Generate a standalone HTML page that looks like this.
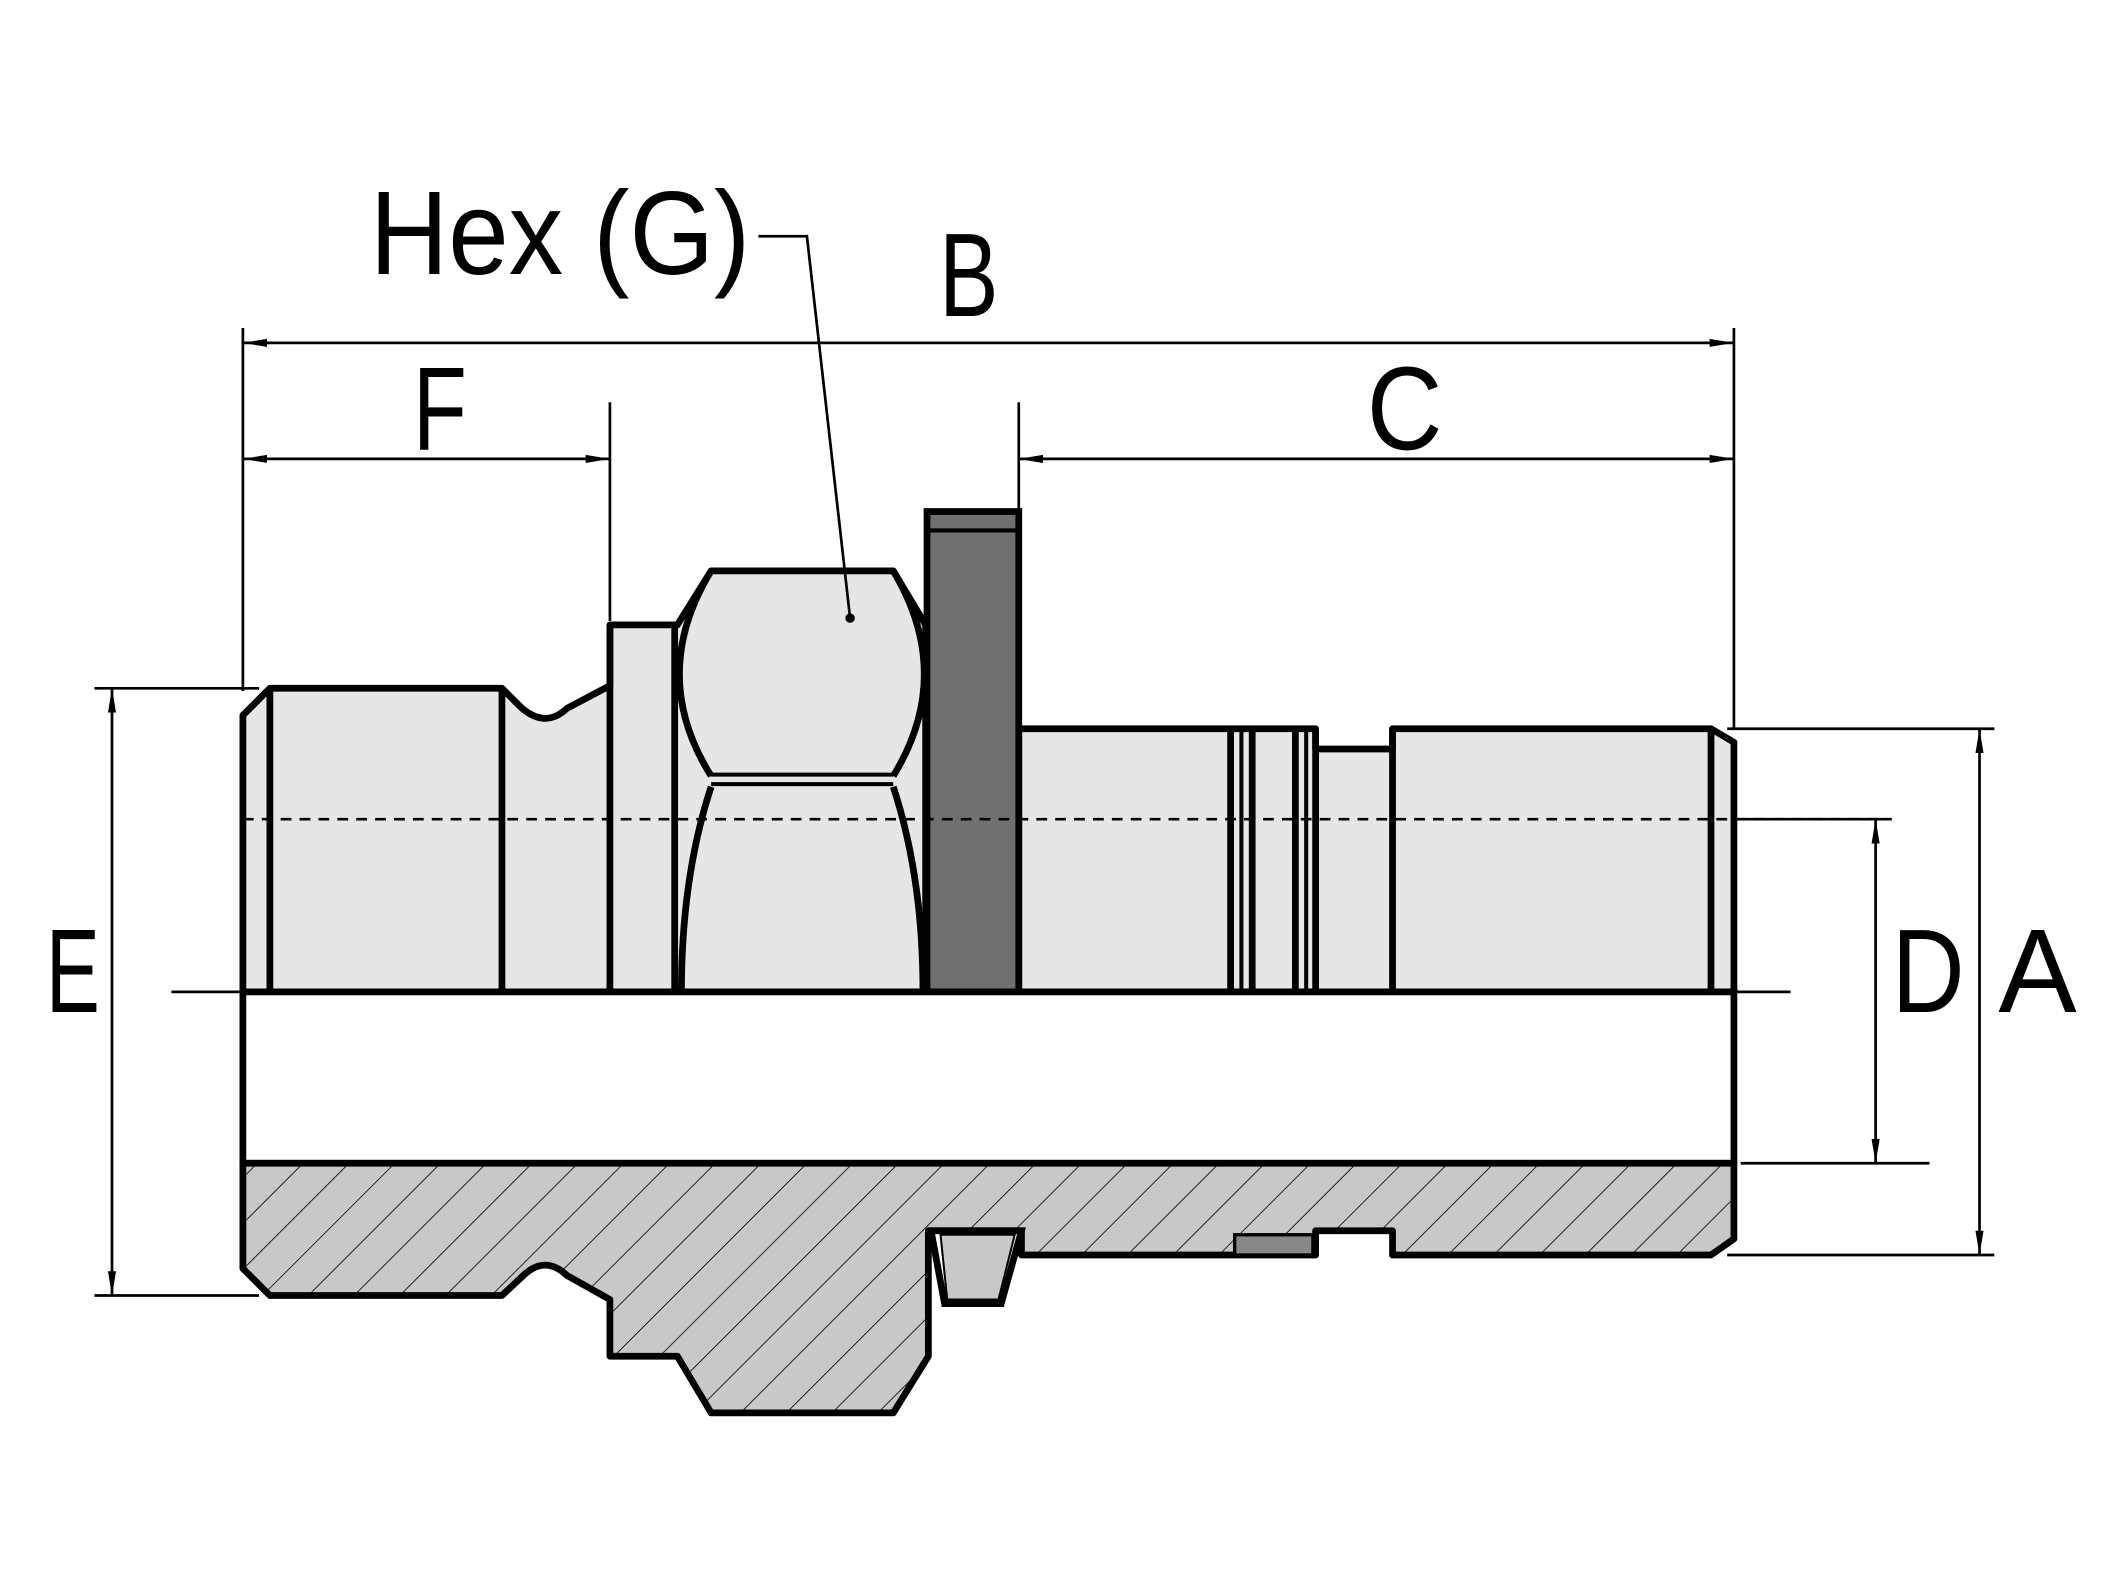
<!DOCTYPE html>
<html><head><meta charset="utf-8"><style>html,body{margin:0;padding:0;background:#fff}svg{display:block}</style></head>
<body>
<svg width="2105" height="1579" viewBox="0 0 1560 1170" xmlns="http://www.w3.org/2000/svg" font-family="'Liberation Sans','DejaVu Sans',sans-serif">
<defs>
<pattern id="h" patternUnits="userSpaceOnUse" width="24" height="24" patternTransform="rotate(45)">
<rect width="24" height="24" fill="#c8c8c8"/><line x1="0" y1="0" x2="0" y2="24" stroke="#222" stroke-width="1.5"/>
</pattern>
<marker id="a" markerWidth="18" markerHeight="8" refX="18" refY="4" orient="auto-start-reverse" markerUnits="userSpaceOnUse">
<path d="M0,1 L18,4 L0,7 Z" fill="#000"/></marker>
</defs>
<g fill="none" stroke="#000" stroke-width="2">
<line x1="180" y1="243" x2="180" y2="512"/>
<line x1="1285" y1="243" x2="1285" y2="540"/>
<line x1="452" y1="298" x2="452" y2="460"/>
<line x1="755" y1="298" x2="755" y2="378"/>
<line x1="70" y1="510" x2="192" y2="510"/>
<line x1="70" y1="960" x2="192" y2="960"/>
<line x1="1280" y1="540" x2="1478" y2="540"/>
<line x1="1280" y1="930" x2="1478" y2="930"/>
<line x1="1290" y1="862" x2="1430" y2="862"/>
<line x1="1290" y1="607" x2="1402" y2="607"/>
<line x1="180" y1="254" x2="1285" y2="254" marker-start="url(#a)" marker-end="url(#a)"/>
<line x1="180" y1="340" x2="452" y2="340" marker-start="url(#a)" marker-end="url(#a)"/>
<line x1="755" y1="340" x2="1285" y2="340" marker-start="url(#a)" marker-end="url(#a)"/>
<line x1="83" y1="510" x2="83" y2="960" marker-start="url(#a)" marker-end="url(#a)"/>
<line x1="1390" y1="607" x2="1390" y2="862" marker-start="url(#a)" marker-end="url(#a)"/>
<line x1="1467" y1="540" x2="1467" y2="930" marker-start="url(#a)" marker-end="url(#a)"/>
</g>
<g stroke="#000" stroke-width="5" stroke-linejoin="round" fill="#e6e6e6">
<path d="M180,735 L180,530 L200,510 L372,510 L386,524 Q404,540 420,525 L452,508 L452,463 L502,463 L527,423 L662,423 L686,463 L686,735 Z"/>
<path d="M755,735 L755,540 L975,540 L975,555 L1032,555 L1032,540 L1268,540 L1285,550 L1285,735 Z"/>
</g>
<g stroke="#000" stroke-width="5" fill="none">
<line x1="200" y1="510" x2="200" y2="735"/>
<line x1="372" y1="510" x2="372" y2="735"/>
<line x1="452" y1="463" x2="452" y2="735"/>
<line x1="500" y1="463" x2="500" y2="735"/>
<line x1="912" y1="540" x2="912" y2="735"/>
<line x1="928" y1="540" x2="928" y2="735"/>
<line x1="960" y1="540" x2="960" y2="735"/>
<line x1="975" y1="540" x2="975" y2="735"/>
<line x1="1032" y1="540" x2="1032" y2="735"/>
<line x1="1268" y1="540" x2="1268" y2="735"/>
<path d="M527,423 Q480,500 527,575"/>
<path d="M662,423 Q708,500 662,575"/>
<path d="M527,583 Q505,650 505,735"/>
<path d="M662,583 Q684,650 684,735"/>
</g>
<g stroke="#000" stroke-width="3">
<line x1="527" y1="574" x2="662" y2="574"/>
<line x1="527" y1="581" x2="662" y2="581"/>
<line x1="920" y1="540" x2="920" y2="735"/>
<line x1="968" y1="540" x2="968" y2="735"/>
</g>
<rect x="687" y="379" width="68" height="356" fill="#707070" stroke="#000" stroke-width="5"/>
<line x1="687" y1="393" x2="755" y2="393" stroke="#000" stroke-width="3"/>
<rect x="180" y="735" width="1105" height="127" fill="#fff" stroke="#000" stroke-width="5"/>
<path d="M180,862 L1285,862 L1285,918 L1268,930 L1032,930 L1032,912 L975,912 L975,930 L757,930 L757,912 L688,912 L688,1005 L662,1047 L527,1047 L502,1005 L452,1005 L452,963 L420,945 Q404,930 388,945 L372,960 L200,960 L180,940 Z" fill="url(#h)" stroke="#000" stroke-width="5" stroke-linejoin="round"/>
<path d="M690,912 L757,912 L742,966 L700,966 Z" fill="#fff" stroke="#000" stroke-width="5"/>
<path d="M697,915 L752,915 L740,963 L702,963 Z" fill="#c8c8c8" stroke="#000" stroke-width="1.5"/>
<rect x="915" y="915" width="58" height="15" fill="#888" stroke="#000" stroke-width="2.5"/>
<line x1="127" y1="735" x2="1327" y2="735" stroke="#000" stroke-width="2"/>
<line x1="180" y1="607" x2="1400" y2="607" stroke="#000" stroke-width="2" stroke-dasharray="8,6"/>
<polyline points="562,175 598,175 630,458" fill="none" stroke="#000" stroke-width="2"/>
<circle cx="630" cy="458" r="3.5" fill="#000"/>
<g font-size="88" fill="#000">
<text x="274" y="203" textLength="282" lengthAdjust="spacingAndGlyphs">Hex (G)</text>
<text x="696" y="234" textLength="44" lengthAdjust="spacingAndGlyphs">B</text>
<text x="306" y="333" textLength="40" lengthAdjust="spacingAndGlyphs">F</text>
<text x="1013" y="333" textLength="56" lengthAdjust="spacingAndGlyphs">C</text>
<text x="34" y="750" textLength="40" lengthAdjust="spacingAndGlyphs">E</text>
<text x="1402" y="750" textLength="54" lengthAdjust="spacingAndGlyphs">D</text>
<text x="1481" y="750" textLength="58" lengthAdjust="spacingAndGlyphs">A</text>
</g>
</svg>
</body></html>
